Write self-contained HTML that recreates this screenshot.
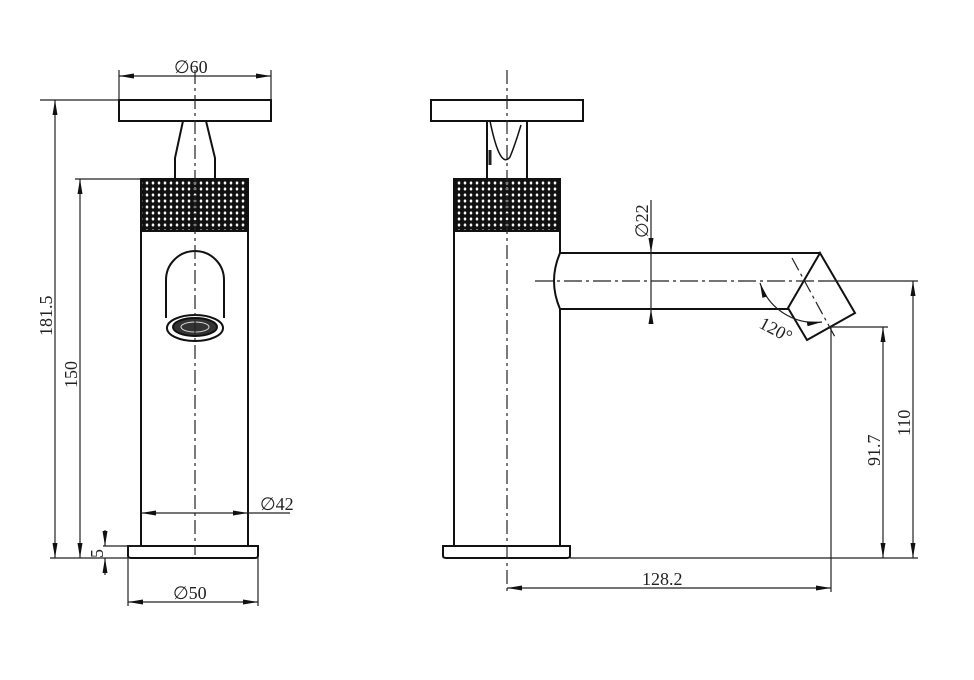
<!DOCTYPE html>
<html><head><style>body{margin:0;background:#fff}svg{display:block}text{font-family:"Liberation Serif",serif;fill:#222}</style></head><body>
<svg width="974" height="680" viewBox="0 0 974 680" xmlns="http://www.w3.org/2000/svg">
<defs>
<pattern id="kn" width="6" height="6" patternUnits="userSpaceOnUse">
<rect width="6" height="6" fill="#111"/>
<path d="M3 1 L4.6 3 L3 5 L1.4 3Z" fill="#fff"/>
</pattern>
<marker id="a" viewBox="0 0 10 10" refX="10" refY="5" markerWidth="15" markerHeight="5" preserveAspectRatio="none" orient="auto-start-reverse" markerUnits="userSpaceOnUse"><path d="M0 0L10 5L0 10Z" fill="#111"/></marker>
</defs>
<g stroke="#111" fill="none" stroke-width="2">
<rect x="119" y="100" width="152" height="21"/>
<path d="M183 121 L175 158 L175 179 M206 121 L215 158 L215 179"/>
<rect x="141" y="179" width="107" height="52" fill="url(#kn)"/>
<path d="M141 231 V546 M248 231 V546"/>
<path d="M128 546 H258 V556 Q258 558 254 558 H132 Q128 558 128 556Z"/>
<path d="M166 318 V280 A29 29 0 0 1 224 280 V318"/>
<ellipse cx="195" cy="328" rx="28" ry="13"/>
<ellipse cx="195" cy="327" rx="22" ry="9" fill="#333"/>
<ellipse cx="195" cy="327" rx="14" ry="5" stroke="#ddd" stroke-width="1"/>
<rect x="431" y="100" width="152" height="21"/>
<path d="M487 121 V179 M527 121 V179"/>
<path d="M490 121 Q500 170 510 157 Q515 145 521 125" stroke-width="1.5"/>
<rect x="454" y="179" width="106" height="52" fill="url(#kn)"/>
<path d="M454 231 V546 M560 231 V253 M560 309 V546"/>
<path d="M443 546 H570 V556 Q570 558 566 558 H447 Q443 558 443 556Z"/>
<path d="M560 253 H820 M560 309 H788 M560 253 Q548 281 560 309"/>
<path d="M820 253 L855 313 L807 340 L788 308 Z"/>
</g>
<g stroke="#222" fill="none" stroke-width="1.2">
<path d="M195 70 V555 M507 70 V595" stroke-dasharray="14 4 3 4"/>
<path d="M535 281 H820" stroke-dasharray="18 4 3 4"/>
<path d="M820 281 H918"/>
<path d="M792 258 L835 337" stroke-dasharray="14 4 3 4"/>
<path d="M119 70 V100 M271 70 V100"/>
<path d="M119 76 H271" marker-start="url(#a)" marker-end="url(#a)"/>
<path d="M40 100 H119 M75 179 H141 M50 558 H128"/>
<path d="M55 100 V558" marker-start="url(#a)" marker-end="url(#a)"/>
<path d="M80 179 V558" marker-start="url(#a)" marker-end="url(#a)"/>
<path d="M103 546 H141"/>
<path d="M105 530 V546" marker-end="url(#a)"/>
<path d="M105 575 V558" marker-end="url(#a)"/>
<path d="M141 513 H248" marker-start="url(#a)" marker-end="url(#a)"/>
<path d="M248 513 H290"/>
<path d="M128 558 V606 M258 558 V606"/>
<path d="M128 602 H258" marker-start="url(#a)" marker-end="url(#a)"/>
<path d="M651 200 V253" marker-end="url(#a)"/>
<path d="M651 322 V309" marker-end="url(#a)"/>
<path d="M651 253 V309"/>
<path d="M760 283 A58 58 0 0 0 822 322" marker-start="url(#a)" marker-end="url(#a)"/>
<path d="M830 327 H888 M570 558 H918"/>
<path d="M883 327 V558" marker-start="url(#a)" marker-end="url(#a)"/>
<path d="M913 281 V558" marker-start="url(#a)" marker-end="url(#a)"/>
<path d="M831 327 V592"/>
<path d="M507 588 H831" marker-start="url(#a)" marker-end="url(#a)"/>
<path d="M490 150 V165" stroke-width="3"/>
</g>
<g font-size="18">
<text x="174" y="73">∅60</text>
<text x="260" y="510">∅42</text>
<text x="173" y="599">∅50</text>
<text x="642" y="585">128.2</text>
<text transform="translate(52,336) rotate(-90)">181.5</text>
<text transform="translate(77,388) rotate(-90)">150</text>
<text transform="translate(103,558) rotate(-90)">5</text>
<text transform="translate(648,238) rotate(-90)">∅22</text>
<text transform="translate(880,466) rotate(-90)">91.7</text>
<text transform="translate(910,436) rotate(-90)">110</text>
<text transform="translate(758,327) rotate(28)">120°</text>
</g>
</svg>
</body></html>
